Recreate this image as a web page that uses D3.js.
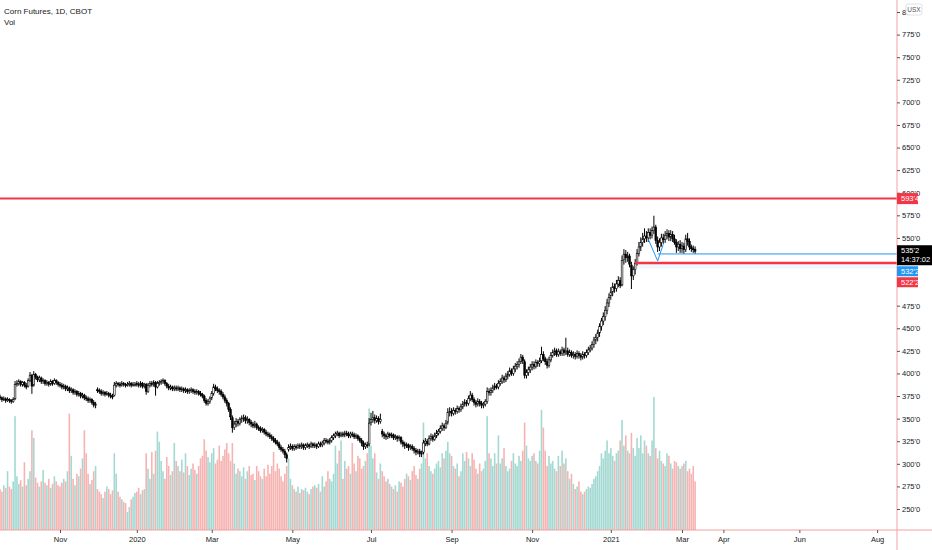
<!DOCTYPE html>
<html>
<head>
<meta charset="utf-8">
<script src="https://cdn.jsdelivr.net/npm/d3@7"></script>
<style>
  body { margin: 0; background: #fff; }
  svg text { font-family: "Liberation Sans Narrow", "Liberation Sans", Arial, sans-serif; fill: #131722; }
</style>
</head>
<body>
<div class="d3-div"></div>
<script>
// Legend texts.
var symbolTitle = "Corn Futures, 1D, CBOT";
var studyTitle = "Vol";
var currencyTag = "USX";
var countdown = "14:37:02";

// CBOT holidays skipped by the daily bars.
var holidays = ["2019-11-28", "2019-12-25", "2020-01-01", "2020-01-20", "2020-02-17", "2020-04-10",
  "2020-05-25", "2020-07-03", "2020-09-07", "2020-11-26", "2020-12-25", "2021-01-01", "2021-01-18", "2021-02-15"];

// Daily bars Sep 18 2019 - Mar 10 2021, cents per bushel. One line per month.
var opens = [
  374,373,371,372,370,371,370,369,372,
  388,389,391,388,390,387,386,392,398,387,399,396,393,395,391,392,389,390,388,391,389,392,390,
  388,387,385,386,383,384,381,382,379,380,377,378,375,376,373,372,370,371,368,365,
  382,381,380,378,379,377,378,376,375,376,387,389,388,387,389,388,387,388,389,387,388,
  389,388,387,389,386,388,380,387,389,388,390,385,389,390,391,392,389,386,384,385,383,
  384,383,384,382,383,381,382,380,381,382,380,379,380,378,377,375,370,367,369,
  373,378,385,383,381,380,377,374,370,367,360,351,340,344,347,345,349,350,351,348,349,346,
  344,342,344,340,339,337,338,335,333,332,330,328,326,324,322,318,316,314,310,316,318,
  319,317,319,318,320,319,321,318,320,321,319,322,320,321,319,322,321,323,326,325,
  324,326,329,331,333,334,331,333,332,334,333,331,333,332,330,331,328,326,323,319,321,322,
  346,349,351,348,350,347,336,333,331,330,333,331,332,329,330,328,329,324,322,320,321,318,
  319,317,315,313,314,311,313,323,325,322,328,330,327,331,334,336,339,342,340,346,357,
  358,356,359,358,361,360,363,366,368,367,372,376,371,368,366,369,367,365,366,369,380,
  379,381,384,386,385,389,391,395,393,397,399,403,400,405,408,410,413,418,413,398,401,404,
  407,410,408,412,411,414,421,416,413,409,415,420,423,425,421,424,422,426,423,425,
  421,423,420,421,419,422,420,418,421,420,423,426,428,432,437,440,445,452,458,463,470,478,
  486,490,496,494,499,503,498,526,532,528,530,520,508,515,522,533,540,545,549,
  552,550,556,553,558,562,547,540,545,550,548,553,555,551,554,549,545,540,543,
  538,541,537,549,546,540,538,537
];
var highs = [
  376,374,374,373,373,372,371,373,391,
  392,393,392,391,391,389,394,401,399,402,400,397,397,396,394,393,392,391,393,392,394,393,391,
  390,389,388,387,386,385,384,383,382,381,380,379,378,377,375,374,373,372,370,368,
  384,383,382,381,380,380,379,378,377,390,391,390,390,391,390,389,390,391,390,390,390,
  391,390,391,390,389,389,389,391,391,392,391,391,392,393,394,393,390,388,387,386,386,
  386,386,385,385,384,384,383,383,384,383,382,382,381,380,378,376,372,371,374,
  380,388,387,385,383,382,379,376,372,368,362,353,347,350,349,351,353,354,353,352,350,348,
  346,347,345,342,341,340,339,337,335,334,332,330,328,326,324,320,318,316,312,321,322,
  321,321,321,322,322,323,322,322,323,322,324,323,323,322,324,324,325,328,328,327,
  328,331,333,335,336,335,335,335,336,336,335,335,335,334,333,332,330,328,325,323,324,350,
  356,358,354,353,352,355,338,335,333,335,334,334,333,332,331,331,330,326,324,323,322,321,
  321,319,317,316,316,314,326,328,327,331,333,332,334,337,338,342,345,344,348,361,362,
  361,362,361,364,363,366,369,371,370,375,380,378,373,370,372,371,369,368,371,384,383,
  384,387,389,388,392,394,398,397,400,402,406,405,408,411,413,416,421,420,415,404,407,410,
  413,413,415,414,417,429,424,418,416,418,423,426,428,427,427,426,429,428,439,428,
  426,425,424,423,425,424,422,424,423,426,429,431,435,440,443,448,455,461,467,474,482,488,
  495,500,499,503,507,506,530,537,536,534,532,523,518,526,537,545,550,555,560,
  557,560,560,562,574,564,551,549,554,554,557,559,558,558,557,553,548,546,547,
  545,544,553,555,549,542,541,540
];
var lows = [
  371,369,370,368,369,368,367,368,371,
  386,387,386,386,385,383,385,391,378,386,394,391,391,389,389,387,387,386,387,387,388,388,386,
  385,383,383,381,381,379,379,377,377,375,375,373,373,371,370,368,368,366,363,362,
  379,378,376,376,375,376,374,373,372,375,385,386,385,386,386,385,386,386,385,386,386,
  386,385,385,384,384,377,379,385,386,386,376,384,387,388,389,387,384,382,382,381,381,
  381,381,380,380,379,379,378,378,379,378,377,377,376,375,373,368,365,365,367,
  371,376,381,379,377,375,372,368,364,358,349,335,338,341,342,343,346,347,345,345,343,341,
  340,340,338,337,335,335,333,331,330,328,326,324,322,320,316,314,312,307,302,314,316,
  315,315,316,317,317,317,316,316,318,317,318,318,318,317,318,319,319,321,323,322,
  322,324,327,329,331,329,330,330,330,331,329,329,330,328,328,326,324,320,316,317,318,320,
  343,346,345,346,344,345,330,328,327,328,329,329,327,327,325,326,322,319,317,318,315,316,
  315,312,310,311,308,308,311,320,320,321,326,325,326,329,332,334,337,337,339,344,353,
  353,354,355,356,357,358,361,364,364,365,370,369,365,363,364,364,362,362,364,367,376,
  376,379,382,383,383,387,389,390,391,394,397,398,398,402,405,407,411,411,395,395,398,401,
  404,405,406,408,408,412,414,410,406,407,413,418,420,419,419,420,420,420,421,419,
  419,418,417,416,417,417,415,416,417,418,421,424,426,429,433,436,441,448,454,459,466,474,
  482,486,490,491,496,495,497,521,523,524,518,494,504,510,520,530,536,541,545,
  546,546,549,550,555,544,535,536,541,544,545,549,547,547,546,543,534,536,534,
  534,533,535,542,537,535,534,533
];
var closes = [
  373,371,372,370,371,370,369,371,388,
  389,391,388,390,387,385,392,398,386,399,396,393,395,391,392,389,390,388,391,389,392,390,388,
  387,385,386,383,384,381,382,379,380,377,378,375,376,373,372,370,371,368,365,366,
  381,380,378,379,377,378,376,375,374,387,389,388,387,389,388,387,388,389,387,388,388,
  388,387,389,386,387,380,387,389,388,390,385,389,390,391,392,389,386,384,385,383,384,
  383,384,382,383,381,382,380,381,382,380,379,380,378,377,375,370,367,369,372,
  378,385,383,381,380,377,374,370,367,360,352,340,344,347,345,349,350,351,348,349,346,344,
  342,344,340,339,337,338,335,333,332,330,328,326,324,322,318,316,314,310,306,318,319,
  317,319,318,320,319,321,318,320,321,319,322,320,321,319,322,321,323,326,325,324,
  326,329,331,333,334,331,333,332,334,333,331,333,332,330,331,328,326,323,319,321,320,345,
  349,351,348,350,347,349,333,331,330,333,331,332,329,330,328,329,324,322,320,321,318,319,
  317,315,313,314,311,312,323,325,322,328,330,327,331,334,336,339,342,340,345,357,358,
  356,359,358,361,360,363,366,368,367,372,376,371,368,366,369,367,365,366,369,380,379,
  381,384,386,385,389,391,395,393,397,399,403,400,405,408,410,413,418,414,398,401,404,407,
  410,408,412,411,414,421,416,413,409,415,420,423,425,421,424,422,426,423,425,421,
  423,420,421,419,422,420,418,421,420,423,426,428,432,437,440,445,452,458,463,470,478,484,
  490,496,494,499,503,497,525,532,528,530,521,508,515,522,533,540,545,549,552,
  550,556,553,558,562,547,540,545,550,548,553,555,551,554,549,545,540,543,538,
  541,537,549,546,540,538,537,535.25
];
// Volume, thousands of contracts.
var volumes = [
  160,150,175,165,230,170,160,190,445,
  210,180,195,170,265,175,200,230,390,360,205,185,170,190,235,185,175,200,165,180,210,190,175,
  170,185,200,190,230,455,290,200,175,220,210,240,280,390,300,220,180,195,230,250,
  160,150,140,125,150,170,160,140,155,300,220,150,130,120,110,105,70,90,120,130,145,
  150,165,140,155,160,300,240,200,305,220,310,385,345,270,230,200,285,250,215,230,340,
  270,250,230,275,225,300,250,215,240,260,235,220,250,280,290,355,310,285,265,
  300,320,260,275,330,270,290,315,340,300,270,340,260,220,240,230,210,245,200,230,250,215,
  220,195,250,230,210,200,240,210,255,220,250,305,230,260,240,210,190,220,250,280,200,
  175,160,150,170,145,160,155,165,150,140,160,170,175,165,180,150,210,170,190,230,
  200,190,220,330,260,310,350,200,270,240,250,220,340,260,230,290,280,240,250,270,300,475,
  330,280,300,225,200,260,230,210,190,200,180,170,160,175,150,190,185,170,200,220,210,195,
  230,250,215,200,240,260,420,280,300,250,230,220,240,260,270,245,300,280,310,345,300,
  290,250,240,260,210,230,300,270,305,280,250,300,275,240,220,260,230,240,270,445,300,
  280,250,300,260,370,260,280,320,250,230,240,270,300,260,250,290,270,310,420,330,280,270,
  290,300,270,260,310,470,400,310,250,290,260,270,240,230,290,250,310,260,280,230,
  200,220,180,160,170,190,150,140,150,160,170,165,180,200,210,230,250,300,280,310,350,300,
  320,290,270,300,310,350,430,330,370,310,300,380,320,290,360,320,370,300,350,
  330,300,290,350,520,320,280,310,270,260,250,300,290,260,240,270,265,250,240,
  250,260,270,230,240,220,250,190
];

// Price axis ticks and month labels on the time axis.
var priceTicks = d3.range(250, 801, 25);
var tickMonths = ["2019-11", "2020-01", "2020-03", "2020-05", "2020-07", "2020-09",
  "2020-11", "2021-01", "2021-03", "2021-04", "2021-06", "2021-08"];

// Drawings on the chart.
var resistancePrice = 593.5;
var supportPrice = 522.25;
var supportStart = "2021-01-22";
var supportBandLow = 516;
var bluePrice = 532.25;
var blueStart = "2021-02-09";
var zigDates = ["2021-02-02", "2021-02-09", "2021-02-12"];
var zigPrices = [548.5, 524.5, 543];

// Layout.
var width = 932;
var height = 550;
var axisX = 897;
var axisY = 530;
var barStep = 1.8735;
var futureStep = 1.767;

var red = "#f23645";
var blue = "#2196f3";
var labelFont = "'Liberation Sans Narrow','Liberation Sans',Arial,sans-serif";

var svgStuff = d3.select(".d3-div")
  .append("svg")
  .attr("width", width)
  .attr("height", height);

// Trading days and blank future days.
var fmtDay = d3.utcFormat("%Y-%m-%d");
var holidaySet = new Set(holidays);
function isWeekday(d) { var w = d.getUTCDay(); return w !== 0 && w !== 6; }
var barDates = d3.utcDay.range(new Date(Date.UTC(2019, 8, 18)), new Date(Date.UTC(2021, 2, 11)))
  .filter(function(d) { return isWeekday(d) && !holidaySet.has(fmtDay(d)); });
var futureDates = d3.utcDay.range(new Date(Date.UTC(2021, 2, 11)), new Date(Date.UTC(2021, 8, 1)))
  .filter(isWeekday);
var allDates = barDates.concat(futureDates);
var lastBar = barDates.length - 1;
var lastIdx = allDates.length - 1;

function idxOf(day) {
  return allDates.findIndex(function(d) { return fmtDay(d) >= day; });
}

var bars = barDates.map(function(d, i) {
  return { i: i, o: opens[i], h: highs[i], l: lows[i], c: closes[i], v: volumes[i] };
});

// Scales.
var x = d3.scaleLinear()
  .domain([0, lastBar, lastIdx])
  .range([0.05, 0.05 + lastBar * barStep, 0.05 + lastBar * barStep + (lastIdx - lastBar) * futureStep]);
var y = d3.scaleLinear().domain([250, 800]).range([509, 12]);
var yVol = d3.scaleLinear().domain([0, d3.max(volumes)]).range([axisY, 397]);

function fmtPrice(p) {
  var whole = Math.floor(p);
  return whole + "'" + Math.round((p - whole) * 8);
}

svgStuff.append("clipPath").attr("id", "plot")
  .append("rect").attr("x", 0).attr("y", 0).attr("width", axisX).attr("height", axisY);

var plot = svgStuff.append("g").attr("clip-path", "url(#plot)");

// Volume bars.
plot.append("g")
  .selectAll("rect")
  .data(bars)
  .join("rect")
  .attr("x", function(d) { return x(d.i) - 0.8; })
  .attr("width", 1.6)
  .attr("y", function(d) { return yVol(d.v); })
  .attr("height", function(d) { return axisY - yVol(d.v); })
  .attr("fill", function(d) { return d.c >= d.o ? "#a3d9d2" : "#f6b3b1"; });

// Band under the support line.
plot.append("rect")
  .attr("x", x(idxOf(supportStart)))
  .attr("width", axisX - x(idxOf(supportStart)))
  .attr("y", y(supportPrice))
  .attr("height", y(supportBandLow) - y(supportPrice))
  .attr("fill", "rgba(33,150,243,0.08)");

// Candles.
var candles = plot.append("g");
candles.selectAll("line")
  .data(bars)
  .join("line")
  .attr("x1", function(d) { return x(d.i); })
  .attr("x2", function(d) { return x(d.i); })
  .attr("y1", function(d) { return y(d.h) - 0.5; })
  .attr("y2", function(d) { return y(d.l) + 0.5; })
  .attr("stroke", "#000")
  .attr("stroke-width", 1);
candles.selectAll("rect")
  .data(bars)
  .join("rect")
  .attr("x", function(d) { return x(d.i) - 0.85; })
  .attr("width", 1.7)
  .attr("y", function(d) { return y(Math.max(d.o, d.c)); })
  .attr("height", function(d) { return Math.max(1, Math.abs(y(d.o) - y(d.c))); })
  .attr("fill", function(d) { return d.c >= d.o ? "#fff" : "#000"; })
  .attr("stroke", "#000")
  .attr("stroke-width", 0.6);

// Horizontal levels.
plot.append("line")
  .attr("x1", 0).attr("x2", axisX)
  .attr("y1", y(resistancePrice)).attr("y2", y(resistancePrice))
  .attr("stroke", red).attr("stroke-width", 2);
plot.append("line")
  .attr("x1", x(idxOf(blueStart))).attr("x2", axisX)
  .attr("y1", y(bluePrice)).attr("y2", y(bluePrice))
  .attr("stroke", blue).attr("stroke-width", 1);
plot.append("line")
  .attr("x1", x(idxOf(supportStart))).attr("x2", axisX)
  .attr("y1", y(supportPrice)).attr("y2", y(supportPrice))
  .attr("stroke", red).attr("stroke-width", 2.5);

// Zigzag drawing.
plot.append("path")
  .datum(zigDates.map(function(d, k) { return [x(idxOf(d)), y(zigPrices[k])]; }))
  .attr("d", d3.line())
  .attr("fill", "none")
  .attr("stroke", blue)
  .attr("stroke-width", 1);

// Axis borders.
svgStuff.append("line")
  .attr("x1", axisX).attr("x2", axisX).attr("y1", 0).attr("y2", height)
  .attr("stroke", "#f3a0a0").attr("stroke-width", 1);
svgStuff.append("line")
  .attr("x1", 0).attr("x2", width).attr("y1", axisY).attr("y2", axisY)
  .attr("stroke", "#f3a0a0").attr("stroke-width", 1);

// Price tags on the axis: current price first, then the two levels below it.
var curPrice = closes[closes.length - 1];
var tags = [
  { top: y(resistancePrice) - 5.5, h: 11, fill: red, lines: [fmtPrice(resistancePrice)], wide: false },
  { top: y(curPrice) - 6, h: 20, fill: "#000", lines: [fmtPrice(curPrice), countdown], wide: true },
  { top: y(curPrice) + 15, h: 10, fill: blue, lines: [fmtPrice(bluePrice)], wide: false },
  { top: y(curPrice) + 26, h: 10, fill: red, lines: [fmtPrice(supportPrice)], wide: false }
];

// Price axis; ticks fully hidden behind a tag are dropped as on the original.
var shownTicks = priceTicks.filter(function(p) {
  return !tags.some(function(t) { return y(p) > t.top && y(p) < t.top + t.h; });
});
var yAxis = svgStuff.append("g")
  .attr("transform", "translate(" + axisX + ",0)")
  .call(d3.axisRight(y).tickValues(shownTicks).tickFormat(fmtPrice).tickSize(3).tickPadding(2));
yAxis.select(".domain").remove();
yAxis.selectAll("line").attr("stroke", "#555");
yAxis.selectAll("text").attr("font-size", 7.5).attr("fill", "#131722").style("font-family", labelFont);

// Time axis.
var monthIdx = tickMonths.map(function(m) {
  return allDates.findIndex(function(d) { return fmtDay(d).slice(0, 7) === m; });
});
var xAxis = svgStuff.append("g")
  .attr("transform", "translate(0," + axisY + ")")
  .call(d3.axisBottom(x).tickValues(monthIdx).tickSize(3).tickPadding(4)
    .tickFormat(function(i) {
      var d = allDates[i];
      return d.getUTCMonth() === 0 ? d3.utcFormat("%Y")(d) : d3.utcFormat("%b")(d);
    }));
xAxis.select(".domain").remove();
xAxis.selectAll("line").attr("stroke", "#555");
xAxis.selectAll("text").attr("font-size", 7.5).attr("fill", "#131722").style("font-family", labelFont);

tags.forEach(function(t) {
  var g = svgStuff.append("g");
  g.append("rect")
    .attr("x", axisX).attr("y", t.top)
    .attr("width", t.wide ? width - axisX : 21).attr("height", t.h)
    .attr("fill", t.fill);
  t.lines.forEach(function(s, k) {
    g.append("text")
      .attr("x", axisX + 4).attr("y", t.top + 7.5 + k * 9)
      .attr("font-size", 7.5)
      .style("fill", "#fff")
      .text(s);
  });
});

// Currency badge.
svgStuff.append("rect")
  .attr("x", 906).attr("y", 4).attr("width", 16).attr("height", 11).attr("rx", 2)
  .attr("fill", "#fff").attr("stroke", "#d1d4dc").attr("stroke-width", 0.7);
svgStuff.append("text")
  .attr("x", 914).attr("y", 12).attr("text-anchor", "middle")
  .attr("font-size", 6.5).style("fill", "#555")
  .text(currencyTag);

// Legend.
svgStuff.append("text").attr("x", 4).attr("y", 14).attr("font-size", 8).text(symbolTitle);
svgStuff.append("text").attr("x", 4).attr("y", 25).attr("font-size", 8).text(studyTitle);
</script>
</body>
</html>
